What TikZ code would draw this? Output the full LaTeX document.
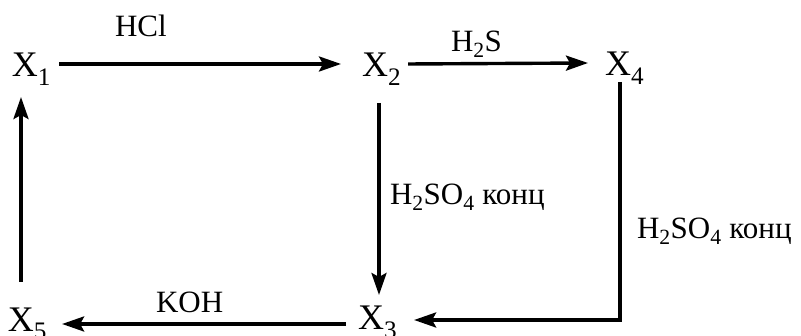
\documentclass[tikz,border=0pt]{standalone}
\usepackage{fontspec}
\setmainfont{Liberation Serif}
\usetikzlibrary{calc,arrows.meta}
\begin{document}
\begin{tikzpicture}[x=1pt,y=1pt,
  sp/.style={inner sep=0pt, outer sep=0pt, anchor=base west, font=\fontsize{36}{40}\selectfont},
  lab/.style={inner sep=0pt, outer sep=0pt, anchor=base west, font=\fontsize{31}{36}\selectfont},
  arr/.style={line width=3.4pt, -{Stealth[length=22pt,width=15pt,inset=4pt]}}]
\useasboundingbox (0,0) rectangle (801,336);
% species
\node[sp] (X1) at (12,259) {X\textsubscript{1}};
\node[sp] (X2) at (362,259) {X\textsubscript{2}};
\node[sp] (X4) at (605,260) {X\textsubscript{4}};
\node[sp] (X3) at (358,6) {X\textsubscript{3}};
\node[sp] (X5) at (8,4) {X\textsubscript{5}};
% reagent labels
\node[lab] (hcl) at (115,299) {HCl};
\node[lab] (hs) at (451,284) {H\textsubscript{2}S};
\node[lab] (koh) at (156,23) {KOH};
\node[lab] (sa1) at (390,131) {H\textsubscript{2}SO\textsubscript{4} конц};
\node[lab] (sa2) at (637,97) {H\textsubscript{2}SO\textsubscript{4} конц};
% connectors
\draw[arr] ([shift={(8,13)}]X1.base east) -- ([shift={(-21,13)}]X2.base west);
\draw[arr] ([shift={(7,13)}]X2.base east) -- ([shift={(-17,13)}]X4.base west);
\draw[arr] ([shift={(17,-26)}]X2.base west) -- ([shift={(21,35)}]X3.base west);
\draw[arr] ([shift={(15,-6)}]X4.base west) |- ([shift={(17,10)}]X3.base east);
\draw[arr] ([shift={(-12,6)}]X3.base west) -- ([shift={(15,8)}]X5.base east);
\draw[arr] ([shift={(13,50)}]X5.base west) -- ([shift={(9,-20)}]X1.base west);
\end{tikzpicture}
\end{document}
